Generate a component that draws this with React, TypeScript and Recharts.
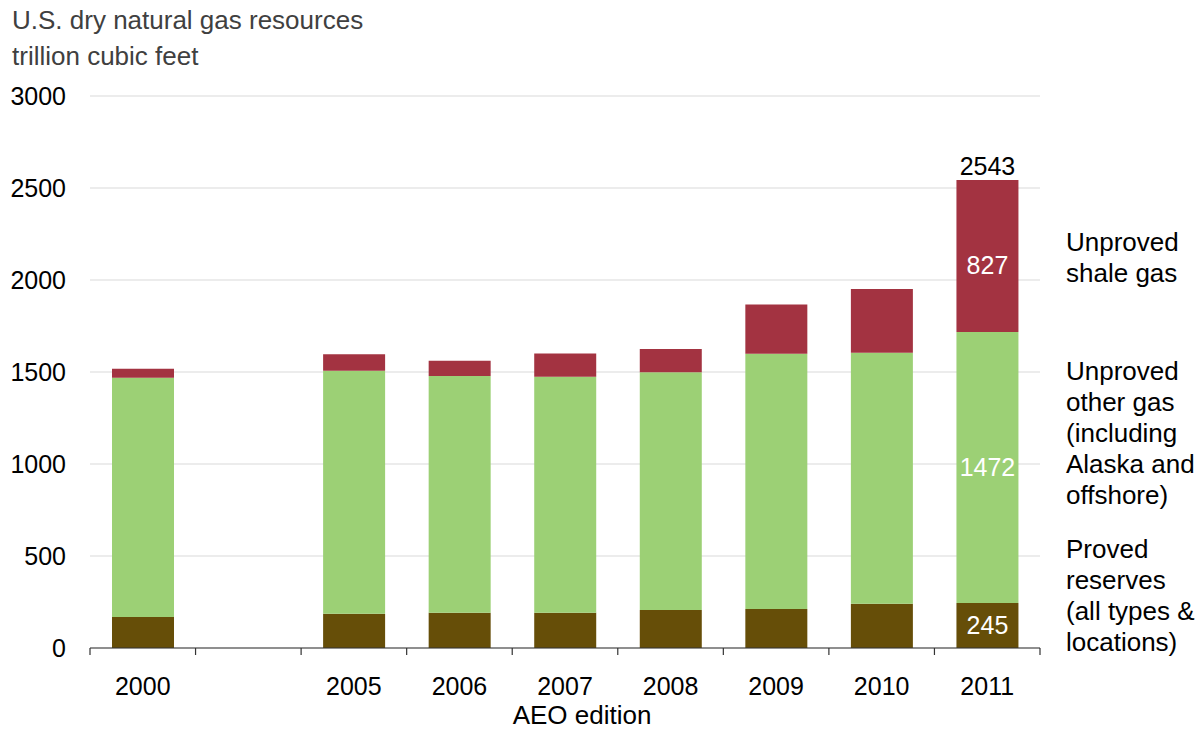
import React from 'react';
import { BarChart, Bar, XAxis, YAxis, CartesianGrid, LabelList } from 'recharts';

// AEO edition (blank slot between 2000 and 2005)
const years = ['2000', '', '2005', '2006', '2007', '2008', '2009', '2010', '2011'];
// trillion cubic feet
const proved = [168, null, 186, 192, 192, 206, 212, 241, 245];
const otherGas = [1301, null, 1321, 1286, 1282, 1292, 1387, 1364, 1472];
const shaleGas = [49, null, 89, 83, 127, 127, 268, 346, 827];
const provedLabels = [null, null, null, null, null, null, null, null, '245'];
const otherLabels = [null, null, null, null, null, null, null, null, '1472'];
const shaleLabels = [null, null, null, null, null, null, null, null, '827'];
const totalLabels = [null, null, null, null, null, null, null, null, '2543'];
const yTicks = [0, 500, 1000, 1500, 2000, 2500, 3000];

const data = years.map((year, i) => ({
  year,
  proved: proved[i],
  other: otherGas[i],
  shale: shaleGas[i],
  provedLabel: provedLabels[i],
  otherLabel: otherLabels[i],
  shaleLabel: shaleLabels[i],
  totalLabel: totalLabels[i],
}));

const font = '"Liberation Sans", Arial, sans-serif';

const sideText: React.CSSProperties = {
  position: 'absolute',
  left: 1066,
  fontSize: 26,
  lineHeight: '31px',
  color: '#000',
  whiteSpace: 'nowrap',
};

// category label plus tick marks on the category boundaries
const YearTick = (props: any) => {
  const { x, y, width, payload, index, visibleTicksCount } = props;
  const half = width / visibleTicksCount / 2;
  const last = index === visibleTicksCount - 1;
  return (
    <g>
      <line x1={x - half} x2={x - half} y1={y} y2={y + 7} stroke="#333" strokeWidth={1.2} />
      {last && <line x1={x + half} x2={x + half} y1={y} y2={y + 7} stroke="#333" strokeWidth={1.2} />}
      <text x={x} y={y + 47} textAnchor="middle" fill="#000" fontSize={25}>
        {payload.value}
      </text>
    </g>
  );
};

export default function App() {
  return (
    <div style={{ position: 'absolute', left: 0, top: 0, width: 1201, height: 729, fontFamily: font, background: '#fff' }}>
      <div style={{ position: 'absolute', left: 12, top: 2, fontSize: 26, lineHeight: '36px', color: '#404040' }}>
        U.S. dry natural gas resources
        <br />
        trillion cubic feet
      </div>

      <BarChart
        width={1201}
        height={729}
        data={data}
        margin={{ top: 96, right: 161, left: 0, bottom: 0 }}
        barSize={62}
      >
        <CartesianGrid vertical={false} stroke="#d9d9d9" strokeWidth={1.2} />
        <XAxis
          dataKey="year"
          height={81}
          axisLine={{ stroke: '#333', strokeWidth: 1.2 }}
          tickLine={false}
          tickSize={0}
          tickMargin={0}
          interval={0}
          tick={<YearTick />}
          label={{ value: 'AEO edition', position: 'insideBottom', offset: 5, dx: 17, fill: '#000', fontSize: 26 }}
        />
        <YAxis
          width={90}
          domain={[0, 3000]}
          ticks={yTicks}
          interval={0}
          axisLine={false}
          tickLine={false}
          tickSize={0}
          tickMargin={24}
          tick={{ fill: '#000', fontSize: 25 }}
        />
        <Bar dataKey="proved" stackId="gas" fill="#664E08" isAnimationActive={false}>
          <LabelList dataKey="provedLabel" position="center" fill="#fff" fontSize={25} />
        </Bar>
        <Bar dataKey="other" stackId="gas" fill="#9CD075" isAnimationActive={false}>
          <LabelList dataKey="otherLabel" position="center" fill="#fff" fontSize={25} />
        </Bar>
        <Bar dataKey="shale" stackId="gas" fill="#A33341" isAnimationActive={false}>
          <LabelList dataKey="shaleLabel" position="center" fill="#fff" fontSize={25} dy={9} />
          <LabelList dataKey="totalLabel" position="top" offset={5} fill="#000" fontSize={25} />
        </Bar>
      </BarChart>

      <div style={{ ...sideText, top: 227 }}>
        Unproved
        <br />
        shale gas
      </div>
      <div style={{ ...sideText, top: 356 }}>
        Unproved
        <br />
        other gas
        <br />
        (including
        <br />
        Alaska and
        <br />
        offshore)
      </div>
      <div style={{ ...sideText, top: 534 }}>
        Proved
        <br />
        reserves
        <br />
        (all types &amp;
        <br />
        locations)
      </div>
    </div>
  );
}
